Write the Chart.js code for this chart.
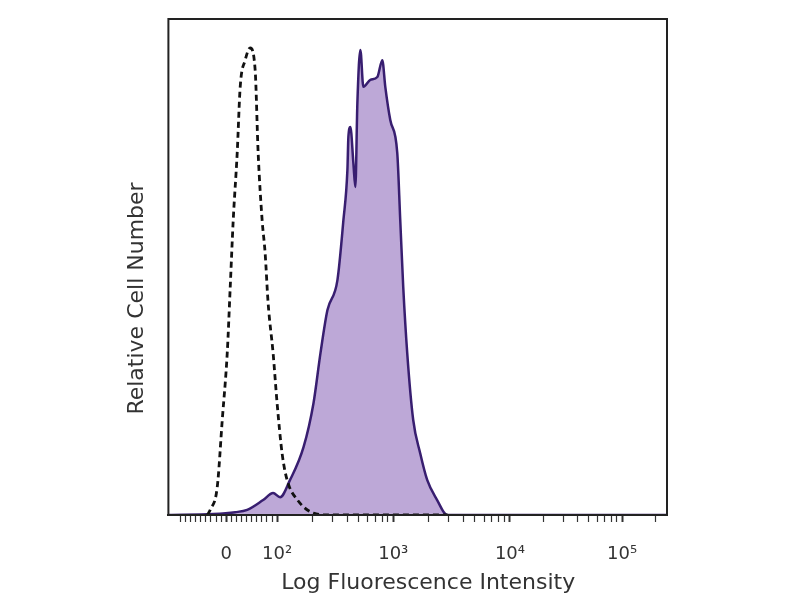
<!DOCTYPE html>
<html lang="en">
<head>
  <meta charset="UTF-8">
  <title>Log Fluorescence Intensity histogram</title>
  <script src="https://cdn.jsdelivr.net/npm/chart.js"></script>
  <style>
    html, body { margin: 0; padding: 0; background: #fff; }
    #wrap { width: 800px; height: 600px; }
  </style>
</head>
<body>
  <div id="wrap"><canvas id="histo" width="800" height="600"></canvas></div>

  <script>
    // x is the display channel (0-1000) of the biexponential axis
    const isoChannel = [78, 84, 98, 108, 118, 124, 130, 138, 144, 154, 164, 174, 180, 188, 194, 200, 210, 218, 228, 238, 259, 291, 325, 560];
    const isoCount   = [0, 1.1, 6.0, 20.3, 34.6, 48.7, 63.0, 77.4, 91.5, 97.2, 99.8, 95.1, 77.4, 63.0, 56.0, 45.3, 34.6, 23.9, 13.2, 7.5, 3.2, 0.4, 0, 0];

    const stainChannel = [0, 90, 134, 158, 190, 210, 224, 244, 271, 291, 305, 319, 339, 351, 359, 361, 365, 371, 375, 379, 385, 391, 405, 419, 429, 435, 445, 459, 465, 471, 479, 491, 505, 519, 539, 559, 1000];
    const stainCount   = [0, 0.2, 0.6, 1.1, 3.2, 4.7, 3.8, 7.5, 14.5, 23.9, 34.6, 43.8, 50.2, 63.0, 73.7, 80.8, 82.9, 75.2, 70.1, 88.0, 99.4, 91.5, 93.0, 93.6, 97.2, 91.5, 84.4, 77.4, 63.0, 48.7, 34.6, 20.3, 13.2, 7.5, 3.2, 0, 0];

    // major ticks of the axis
    const tickChannels = [116, 218, 451, 685, 910];
    const tickLabels   = ['0', '10²', '10³', '10⁴', '10⁵'];

    // minor ticks: linear part round zero, then 2..9 inside each decade
    const minorTicks = [];
    for (let k = -9; k <= 9; k++) {
      if (k !== 0) minorTicks.push(tickChannels[0] + k * (tickChannels[1] - tickChannels[0]) / 10);
    }
    for (let d = 1; d < tickChannels.length; d++) {
      const a = tickChannels[d];
      const b = d + 1 < tickChannels.length ? tickChannels[d + 1] : a + (a - tickChannels[d - 1]);
      for (let k = 2; k <= 9; k++) {
        const c = a + Math.log10(k) * (b - a);
        if (c < 1000) minorTicks.push(c);
      }
    }

    const toPoints = (xs, ys) => xs.map((x, i) => ({ x: x, y: ys[i] }));

    // box round the plot area
    const frame = {
      id: 'frame',
      afterDatasetsDraw(chart) {
        const a = chart.chartArea, c = chart.ctx;
        c.save();
        c.strokeStyle = '#222';
        c.lineWidth = 2;
        c.strokeRect(a.left, a.top, a.right - a.left, a.bottom - a.top);
        c.restore();
      }
    };

    const font = "'DejaVu Sans', sans-serif";

    new Chart(document.getElementById('histo'), {
      type: 'line',
      data: {
        datasets: [
          {
            label: 'Isotype control',
            data: toPoints(isoChannel, isoCount),
            borderColor: '#111',
            borderWidth: 2.8,
            borderDash: [6, 4],
            pointRadius: 0,
            fill: false,
            cubicInterpolationMode: 'monotone'
          },
          {
            label: 'Stained',
            data: toPoints(stainChannel, stainCount),
            borderColor: 'rgb(56, 30, 112)',
            backgroundColor: 'rgb(189, 168, 215)',
            borderWidth: 2.5,
            pointRadius: 0,
            fill: 'origin',
            cubicInterpolationMode: 'monotone'
          }
        ]
      },
      options: {
        responsive: false,
        animation: false,
        layout: { padding: { left: 116, right: 133, top: 19, bottom: 4 } },
        plugins: {
          legend: { display: false },
          tooltip: { enabled: false }
        },
        scales: {
          x: {
            type: 'linear',
            min: 0,
            max: 1000,
            afterBuildTicks(scale) {
              const all = tickChannels.map(v => ({ value: v, major: true }))
                .concat(minorTicks.map(v => ({ value: v, major: false })));
              all.sort((p, q) => p.value - q.value);
              scale.ticks = all;
            },
            ticks: {
              autoSkip: false,
              maxRotation: 0,
              padding: 22,
              color: '#333',
              font: { family: font, size: 18 },
              callback(value) {
                const i = tickChannels.indexOf(value);
                return i >= 0 ? tickLabels[i] : '';
              }
            },
            grid: {
              display: true,
              drawOnChartArea: false,
              drawTicks: true,
              tickLength: 7,
              tickColor: '#333',
              tickWidth: ctx => (ctx.tick && ctx.tick.major ? 2 : 1.2)
            },
            border: { display: true, color: '#222', width: 2 },
            title: {
              display: true,
              // leading spaces nudge the title right, as in the original
              text: '\u00a0\u00a0\u00a0Log Fluorescence Intensity',
              color: '#333',
              font: { family: font, size: 22 },
              padding: { top: -18, bottom: 0 }
            }
          },
          y: {
            min: 0,
            max: 106,
            ticks: { display: false },
            grid: { display: false },
            border: { display: false },
            title: {
              display: true,
              // trailing spaces push the text down, as in the original
              text: 'Relative Cell Number' + '\u00a0'.repeat(9),
              color: '#333',
              font: { family: font, size: 22 },
              padding: { top: 8, bottom: 10 }
            }
          }
        }
      },
      plugins: [frame]
    });
  </script>
</body>
</html>
